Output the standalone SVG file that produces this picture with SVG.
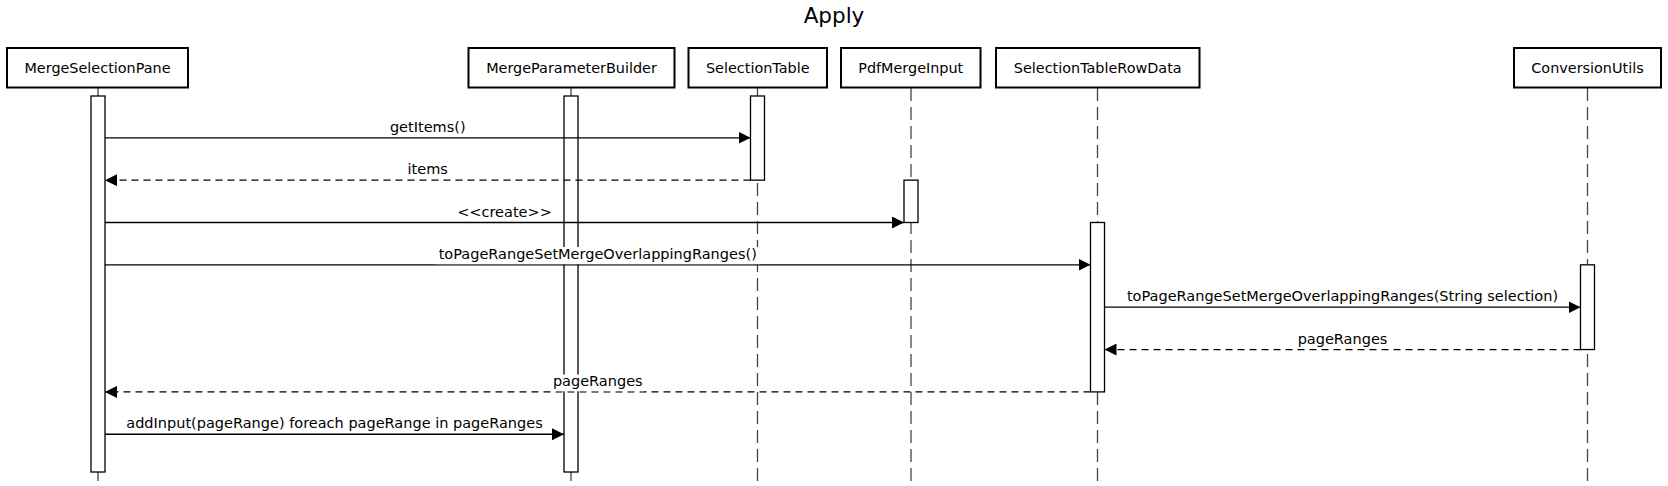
<svg xmlns="http://www.w3.org/2000/svg" width="1668" height="486" viewBox="0 0 1668 486">
<style>
text{font-family:"DejaVu Sans","Liberation Sans",sans-serif;fill:#000}
.title{font-size:21.5px;text-anchor:middle}
.box{fill:#fff;stroke:#000;stroke-width:2}
.blabel{font-size:14.4px;text-anchor:middle}
.life{stroke:#444;stroke-width:1.3;stroke-dasharray:13 6;fill:none}
.bar{fill:#fff;stroke:#000;stroke-width:1.3}
.msg{stroke:#000;stroke-width:1.3;fill:none}
.ret{stroke:#000;stroke-width:1.3;fill:none;stroke-dasharray:7 5}
.mlabel{font-size:14.5px;text-anchor:middle}
.bg{fill:#fff}
</style>
<defs>
<marker id="arr" markerUnits="userSpaceOnUse" markerWidth="12" markerHeight="12" refX="12" refY="6" orient="auto">
<path d="M0,0 L12,6 L0,12 z" fill="#000"/>
</marker>
</defs>
<rect width="1668" height="486" fill="#fff"/>
<text class="title" x="834" y="23">Apply</text>

<g id="lifelines">
<line class="life" x1="98" y1="88" x2="98" y2="482"/>
<line class="life" x1="571" y1="88" x2="571" y2="482"/>
<line class="life" x1="757.5" y1="88" x2="757.5" y2="482"/>
<line class="life" x1="911" y1="88" x2="911" y2="482"/>
<line class="life" x1="1097.5" y1="88" x2="1097.5" y2="482"/>
<line class="life" x1="1587.5" y1="88" x2="1587.5" y2="482"/>
</g>

<g id="MergeSelectionPane">
<rect class="box" x="7" y="48" width="181" height="39.5"/>
<text class="blabel" x="97.5" y="73">MergeSelectionPane</text>
<rect class="bar" x="91" y="96" width="14" height="376"/>
</g>
<g id="MergeParameterBuilder">
<rect class="box" x="468.5" y="48" width="206" height="39.5"/>
<text class="blabel" x="571.5" y="73">MergeParameterBuilder</text>
<rect class="bar" x="564" y="96" width="14" height="376"/>
</g>
<g id="SelectionTable">
<rect class="box" x="688.5" y="48" width="138.5" height="39.5"/>
<text class="blabel" x="757.75" y="73">SelectionTable</text>
<rect class="bar" x="750.5" y="96" width="14" height="84.15"/>
</g>
<g id="PdfMergeInput">
<rect class="box" x="841" y="48" width="139.5" height="39.5"/>
<text class="blabel" x="910.75" y="73">PdfMergeInput</text>
<rect class="bar" x="904" y="180.15" width="14" height="42.35"/>
</g>
<g id="SelectionTableRowData">
<rect class="box" x="996" y="48" width="203.5" height="39.5"/>
<text class="blabel" x="1097.75" y="73">SelectionTableRowData</text>
<rect class="bar" x="1090.5" y="222.5" width="14" height="169.4"/>
</g>
<g id="ConversionUtils">
<rect class="box" x="1514" y="48" width="147" height="39.5"/>
<text class="blabel" x="1587.5" y="73">ConversionUtils</text>
<rect class="bar" x="1580.5" y="264.85" width="14" height="84.7"/>
</g>

<g id="connectors">
<line class="msg" x1="105" y1="137.8" x2="750.5" y2="137.8" marker-end="url(#arr)"/>
<text class="mlabel" x="427.75" y="131.8">getItems()</text>

<line class="ret" x1="750.5" y1="180.15" x2="105" y2="180.15" marker-end="url(#arr)"/>
<text class="mlabel" x="427.75" y="174.15">items</text>

<line class="msg" x1="105" y1="222.5" x2="904" y2="222.5" marker-end="url(#arr)"/>
<text class="mlabel" x="504.5" y="216.5">&lt;&lt;create&gt;&gt;</text>

<line class="msg" x1="105" y1="264.85" x2="1090.5" y2="264.85" marker-end="url(#arr)"/>
<rect class="bg" x="435" y="247" width="325" height="17.2"/>
<text class="mlabel" x="597.75" y="258.85">toPageRangeSetMergeOverlappingRanges()</text>

<line class="msg" x1="1104.5" y1="307.2" x2="1580.5" y2="307.2" marker-end="url(#arr)"/>
<text class="mlabel" x="1342.5" y="301.2">toPageRangeSetMergeOverlappingRanges(String selection)</text>

<line class="ret" x1="1580.5" y1="349.55" x2="1104.5" y2="349.55" marker-end="url(#arr)"/>
<text class="mlabel" x="1342.5" y="343.55">pageRanges</text>

<line class="ret" x1="1090.5" y1="391.9" x2="105" y2="391.9" marker-end="url(#arr)"/>
<rect class="bg" x="552" y="374.5" width="92" height="16.8"/>
<text class="mlabel" x="597.75" y="385.9">pageRanges</text>

<line class="msg" x1="105" y1="434.25" x2="564" y2="434.25" marker-end="url(#arr)"/>
<text class="mlabel" x="334.5" y="428.25">addInput(pageRange) foreach pageRange in pageRanges</text>
</g>
</svg>
